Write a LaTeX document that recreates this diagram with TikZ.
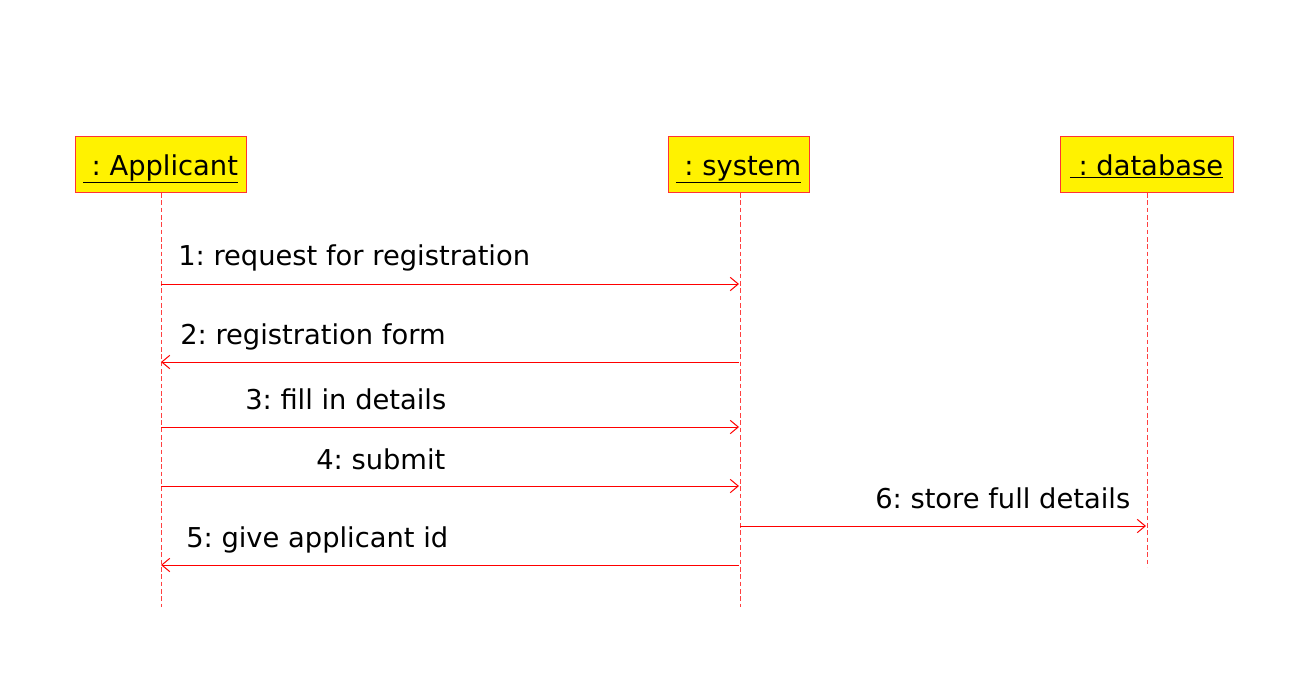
\documentclass[tikz,border=0pt]{standalone}
\usepackage{fontspec}
\setmainfont{DejaVu Sans}
\usetikzlibrary{arrows.meta}
\frenchspacing
\begin{document}
\begin{tikzpicture}[x=0.75pt,y=-0.75pt,
  obj/.style={draw=red!80!white, fill=yellow, line width=0.75pt},
  objtxt/.style={anchor=base, inner sep=0pt, font=\fontsize{20.5}{24}\selectfont},
  life/.style={draw=red!75!white, line width=0.75pt, dash pattern=on 3.5pt off 2pt},
  msg/.style={draw=red, line width=0.75pt, -{Straight Barb[length=6pt,width=10pt,line width=0.75pt]}},
  lbl/.style={anchor=base west, inner sep=0pt, font=\fontsize{20.5}{24}\selectfont}]
\useasboundingbox (0,0) rectangle (1297,675);
% object boxes
\path[obj] (75,136) rectangle (246,192);
\path[obj] (668,136) rectangle (809,192);
\path[obj] (1060,136) rectangle (1233,192);
\node[objtxt] (A) at (160.5,175) {\underline{\ : Applicant}};
\node[objtxt] (S) at (738.5,175) {\underline{\ : system}};
\node[objtxt] (D) at (1146.5,175) {\underline{\ : database}};
% lifelines
\coordinate (Atop) at (161,193);
\coordinate (Abot) at (161,607);
\coordinate (Stop) at (740,193);
\coordinate (Sbot) at (740,607);
\coordinate (Dtop) at (1147,193);
\coordinate (Dbot) at (1147,567);
\draw[life] (Atop) -- (Abot);
\draw[life] (Stop) -- (Sbot);
\draw[life] (Dtop) -- (Dbot);
% message endpoints
\coordinate (a1) at (161,284); \coordinate (s1) at (739,284);
\coordinate (a2) at (161,362); \coordinate (s2) at (739,362);
\coordinate (a3) at (161,427); \coordinate (s3) at (739,427);
\coordinate (a4) at (161,486); \coordinate (s4) at (739,486);
\coordinate (s6) at (740,526); \coordinate (d6) at (1146,526);
\coordinate (a5) at (161,565); \coordinate (s5) at (739,565);
\draw[msg] (a1) -- (s1);
\draw[msg] (s2) -- (a2);
\draw[msg] (a3) -- (s3);
\draw[msg] (a4) -- (s4);
\draw[msg] (s6) -- (d6);
\draw[msg] (s5) -- (a5);
% labels
\node[lbl] (l1) at (178,265) {1: request for registration};
\node[lbl] (l2) at (180,344) {2: registration form};
\node[lbl] (l3) at (245,409) {3: fill in details};
\node[lbl] (l4) at (316,469) {4: submit};
\node[lbl] (l6) at (875,508) {6: store full details};
\node[lbl] (l5) at (186,547) {5: give applicant id};
\end{tikzpicture}
\end{document}
